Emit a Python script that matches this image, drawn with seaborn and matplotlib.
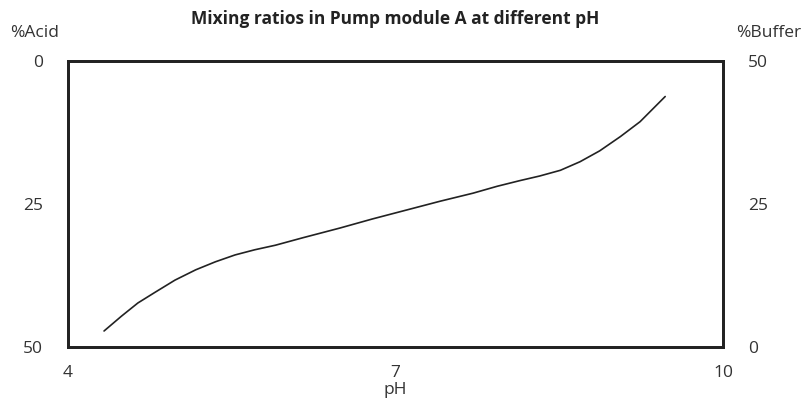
import matplotlib
matplotlib.use("Agg")
import matplotlib.pyplot as plt
import seaborn as sns
import pandas as pd

sns.set_style("white")
plt.rcParams["font.family"] = ["Open Sans", "DejaVu Sans"]

# ====== Data ======
ph = [4.33, 4.49, 4.64, 4.80, 4.98, 5.17, 5.35, 5.53, 5.71, 5.90,
      6.15, 6.49, 6.79, 7.11, 7.41, 7.71, 7.93, 8.14, 8.32, 8.51,
      8.69, 8.87, 9.06, 9.24, 9.47]
acid = [47.2, 44.6, 42.3, 40.4, 38.3, 36.5, 35.1, 33.9, 33.0, 32.2,
        30.9, 29.2, 27.6, 26.0, 24.5, 23.1, 21.9, 20.9, 20.1, 19.1,
        17.6, 15.7, 13.2, 10.6, 6.2]
x_ticks = [4, 7, 10]
acid_ticks = [0, 25, 50]
buffer_ticks = [0, 25, 50]

df = pd.DataFrame({"pH": ph, "acid": acid})

fig = plt.figure(figsize=(8.04, 4.05), dpi=100)
ax = fig.add_axes([0.0846, 0.1432, 0.8147, 0.706])

sns.lineplot(data=df, x="pH", y="acid", ax=ax, color="#222222", linewidth=1.2)

ax.set_xlim(4, 10)
ax.set_ylim(50, 0)
ax.set_xticks(x_ticks)
ax.set_yticks(acid_ticks)
ax.set_xlabel("pH", fontsize=12.5, color="#333333", labelpad=1)
ax.set_ylabel("")
ax.tick_params(axis="both", length=0, labelsize=12.5, labelcolor="#333333")
ax.tick_params(axis="x", pad=13)
ax.tick_params(axis="y", pad=18)

ax2 = ax.twinx()
ax2.set_ylim(0, 50)
ax2.set_yticks(buffer_ticks)
ax2.tick_params(axis="y", length=0, labelsize=12.5, labelcolor="#333333", pad=18)

for a in (ax, ax2):
    for s in a.spines.values():
        s.set_linewidth(2)
        s.set_color("#222222")

fig.text(0.492, 0.952, "Mixing ratios in Pump module A at different pH",
         ha="center", va="center", fontsize=12.5, fontweight="bold", color="#222222")
fig.text(0.012, 0.918, "%Acid", ha="left", va="center", fontsize=12.5, color="#333333")
fig.text(0.997, 0.918, "%Buffer", ha="right", va="center", fontsize=12.5, color="#333333")

fig.savefig("out.png", dpi=100)
